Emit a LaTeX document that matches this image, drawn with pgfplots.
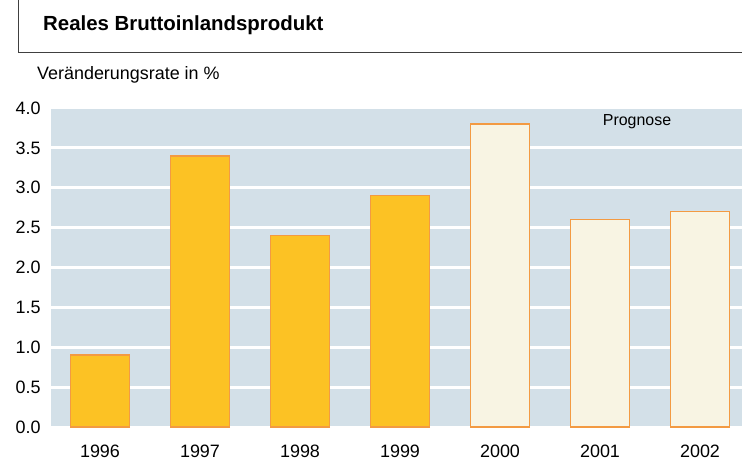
\documentclass[border=0pt]{standalone}
\usepackage{pgfplots}
\pgfplotsset{compat=1.18}
\usepackage{fontspec}
\setmainfont{Liberation Sans}
\definecolor{bg}{HTML}{D3E0E8}
\definecolor{barA}{HTML}{FCC224}
\definecolor{barB}{HTML}{F8F4E3}
\definecolor{edge}{HTML}{F39A42}
\begin{document}
\begin{tikzpicture}[x=1bp,y=1bp]
\useasboundingbox (-51,-38) rectangle (691,427);
\begin{axis}[
  at={(0,0)}, anchor=south west,
  scale only axis, width=691bp, height=319bp,
  xmin=-0.49, xmax=6.42, ymin=0, ymax=4,
  axis line style={draw=none},
  axis background/.style={fill=bg},
  major tick length=0pt,
  ytick={0,0.5,...,4.0},
  /pgf/number format/fixed, /pgf/number format/fixed zerofill,
  /pgf/number format/precision=1, /pgf/number format/assume math mode=true,
  yticklabel style={font=\fontsize{18}{20}\selectfont, xshift=-7bp},
  xtick={0,...,6},
  xticklabels={1996,1997,1998,1999,2000,2001,2002},
  xticklabel style={font=\fontsize{18}{20}\selectfont, yshift=-14bp},
  ymajorgrids, grid style={white, line width=2.8bp},
  clip=false,
]
\addplot[ybar, bar width=0.59, bar shift=0pt, fill=barA, draw=edge, line width=1.5bp]
  coordinates {(0,0.9) (1,3.4) (2,2.4) (3,2.9)};
\addplot[ybar, bar width=0.59, bar shift=0pt, fill=barB, draw=edge, line width=1.5bp]
  coordinates {(4,3.8) (5,2.6) (6,2.7)};
\end{axis}
\draw[line width=0.8bp, black!75] (-33,427) -- (-33,375) -- (691,375);
\node[anchor=base west, inner sep=0pt, font=\fontsize{20.5}{22}\selectfont\bfseries] at (-8,396) {Reales Bruttoinlandsprodukt};
\node[anchor=base west, inner sep=0pt, font=\fontsize{18}{20}\selectfont] at (-14,347) {Veränderungsrate in \%};
\node[anchor=base, inner sep=0pt, font=\fontsize{16}{18}\selectfont] at (586,301) {Prognose};
\end{tikzpicture}
\end{document}
